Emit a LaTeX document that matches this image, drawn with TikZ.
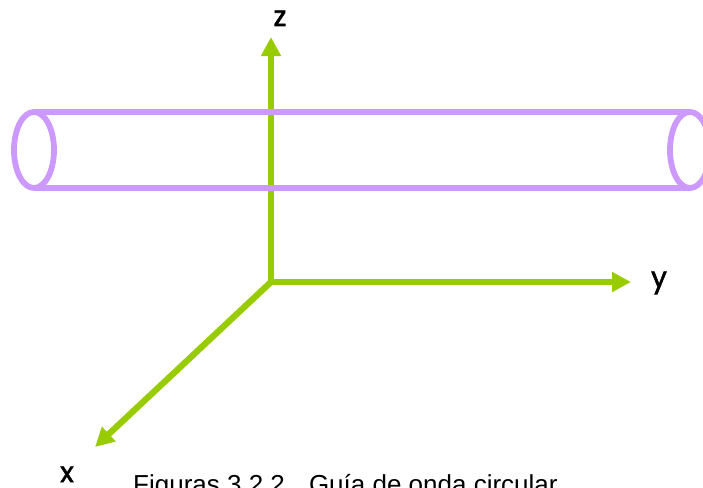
\documentclass[tikz,border=0pt]{standalone}
\usepackage{fontspec}
\setmainfont{Liberation Sans}
\newfontfamily\axisfont[FakeBold=2]{Poppins}
\usepackage{xcolor}
\usetikzlibrary{arrows.meta,positioning,shapes.geometric}
\definecolor{axisgreen}{HTML}{99CC00}
\definecolor{tubepurple}{HTML}{CC99FF}

\begin{document}
\begin{tikzpicture}[
  x=1pt, y=-1pt,
  axis/.style={-{Triangle[length=19pt,width=19pt]}, line width=6.3pt, color=axisgreen},
  tube/.style={line width=6.3pt, color=tubepurple},
  rim/.style={draw=tubepurple, line width=5.8pt, ellipse, minimum width=40pt, minimum height=76pt, inner sep=0pt, outer sep=0pt},
  lbl/.style={inner sep=0pt, font=\axisfont\fontsize{28}{28}\selectfont},
]
\clip (0,0) rectangle (703,487);
% ejes
\coordinate (origin) at (271,282);
\coordinate (ztip) at (271,37);
\coordinate (ytip) at (631,282);
\coordinate (xtip) at (95,447);
\draw[axis] (origin) -- (ztip);
\draw[axis] (origin) -- (ytip);
\draw[axis] (origin) -- (xtip);
% guia circular
\node[rim] (left) at (34,150) {};
\node[rim] (right) at (690,150) {};
\draw[tube] (left.north) -- (right.north);
\draw[tube] (left.south) -- (right.south);
% etiquetas
\node[lbl, anchor=base] (zlabel) at (280,26) {z};
\node[lbl, anchor=base] (ylabel) at (659,287) {y};
\node[lbl, anchor=base] (xlabel) at (67,482) {x};
\node[inner sep=0pt, anchor=base west, font=\fontsize{26}{26}\selectfont] (caption) at (133,493) {Figuras 3.2.2 . Guía de onda circular};
\end{tikzpicture}
\end{document}
